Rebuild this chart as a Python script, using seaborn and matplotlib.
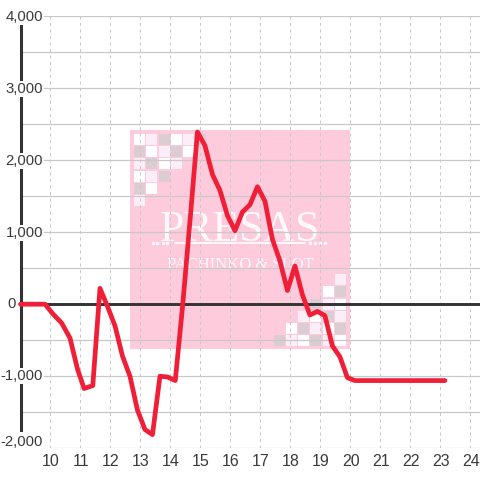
import matplotlib
matplotlib.use("Agg")
import matplotlib.pyplot as plt
import seaborn as sns
import pandas as pd
from matplotlib.patches import Rectangle

# valores
jogos = [9.0, 9.82, 10.07, 10.37, 10.65, 10.9, 11.12, 11.41, 11.65, 11.9, 12.15, 12.4, 12.65,
         12.9, 13.15, 13.4, 13.65, 13.9, 14.16, 14.41, 14.66, 14.9, 15.15, 15.4, 15.65,
         15.9, 16.15, 16.4, 16.65, 16.9, 17.15, 17.4, 17.65, 17.9, 18.15, 18.4, 18.65,
         18.9, 19.15, 19.4, 19.65, 19.9, 20.15, 21.0, 22.0, 23.15]
saldo = [0, 0, -130, -260, -470, -900, -1170, -1130, 220, -30, -300, -720, -1000,
         -1470, -1740, -1810, -1000, -1010, -1060, 0, 1200, 2390, 2200, 1800, 1580,
         1230, 1020, 1280, 1380, 1630, 1430, 900, 600, 190, 530, 130, -150, -100, -160,
         -580, -730, -1020, -1060, -1060, -1060, -1060]

y_ticks = [4000, 3000, 2000, 1000, 0, -1000, -2000]
y_labels = ["4,000", "3,000", "2,000", "1,000", "0", "-1,000", "-2,000"]
y_minor = [3500, 2500, 1500, 500, -500, -1500]
x_ticks = [10, 11, 12, 13, 14, 15, 16, 17, 18, 19, 20, 21, 22, 23, 24]

# logo de fundo
cor_logo = "#fdcbdb"
padrao = [["w", "l", "g", "w", "l", "g"],
          ["g", "w", "l", "g", "w"],
          ["l", "g", "w", "l"],
          ["w", "l", "g"],
          ["g", "w"],
          ["l"]]
cores_celula = {"w": "#ffffff", "l": "#fbeef8", "g": "#dccdd2"}
pontos_logo = [152.7, 157.3, 162.7, 167.3, 310, 315, 320, 325]

fundo = "#fefffe"
sns.set_theme(style="white")
plt.rcParams["font.family"] = ["Liberation Sans", "DejaVu Sans"]

fig = plt.figure(figsize=(4.8, 4.8), dpi=100, facecolor=fundo)
ax = fig.add_axes([20.5 / 480, 1 - 448.3 / 480, 459.5 / 480, 432.3 / 480], facecolor=fundo)
ax.set_xlim(9.0, 24.32)
ax.set_ylim(-2000, 4000)
for s in ax.spines.values():
    s.set_visible(False)

# px -> dados
dx = 1 / 30
dy = 1000 / 72
x_logo0, x_logo1 = 12.66, 19.99
y_logo0, y_logo1 = -625, 2417
ax.add_patch(Rectangle((x_logo0, y_logo0), x_logo1 - x_logo0, y_logo1 - y_logo0, color=cor_logo, lw=0, zorder=0))
passo = 12.2
lado = 11
for i, linha in enumerate(padrao):
    for j, c in enumerate(linha):
        ax.add_patch(Rectangle((x_logo0 + (4 + j * passo) * dx, y_logo1 - (4 + i * passo + lado) * dy),
                               lado * dx, lado * dy, color=cores_celula[c], lw=0, zorder=0.5))
        ax.add_patch(Rectangle((x_logo1 - (4.3 + j * passo + lado) * dx, y_logo0 + (3 + i * passo) * dy),
                               lado * dx, lado * dy, color=cores_celula[c], lw=0, zorder=0.5))
xc = (x_logo0 + x_logo1) / 2
ax.text(xc, 882, "PRESAS", color="white", alpha=0.92, family="Liberation Serif", fontsize=31.5,
        ha="center", va="baseline", zorder=0.6)
ax.plot([(175 - 50.5) * dx + 10, (305 - 50.5) * dx + 10], [851, 851], color="white", lw=1.2, zorder=0.6)
ax.scatter([(p - 50.5) * dx + 10 for p in pontos_logo], [851] * len(pontos_logo), s=6, color="white", lw=0, zorder=0.6)
ax.text(xc, 486, "PACHINKO & SLOT", color="white", alpha=0.85, family="Liberation Serif", fontsize=12,
        ha="center", va="baseline", zorder=0.6)

ax.set_xticks(x_ticks)
ax.set_yticks(y_ticks + y_minor)
ax.tick_params(length=0, labelleft=False, labelbottom=False)
ax.set_axisbelow("line")
ax.grid(axis="y", color="#c8c8c8", lw=0.9)
ax.grid(axis="x", color="#c8c8c8", lw=0.72, ls=(0, (3, 3.5)))

ax.axvline(9.0, color="#333333", lw=2.2, zorder=2, clip_on=False)
ax.axhline(0, color="#333333", lw=2.1, zorder=2)

df = pd.DataFrame({"jogos": jogos, "saldo": saldo})
sns.lineplot(data=df, x="jogos", y="saldo", color="#f01e36", lw=3.4, ax=ax, zorder=3, clip_on=False)
ax.set_xlabel("")
ax.set_ylabel("")

for v, t in zip(y_ticks, y_labels):
    px = 16 if v == 0 else 43
    sobe = 6.5 if v == -2000 else (-0.7 if v > 0 else 0)
    folga = 2.2 if v == -2000 else 0.9
    ax.annotate(t, xy=(0, v), xycoords=("axes fraction", "data"), xytext=(px - 20.5, sobe), textcoords="offset pixels",
                ha="right", va="center", fontsize=10.7, color="#3a3a3a", zorder=4, annotation_clip=False,
                bbox=dict(facecolor=fundo, edgecolor="none", pad=folga))
for v in x_ticks:
    ax.annotate(str(v), xy=(v, 0), xycoords=("data", "axes fraction"), xytext=(0.5, -13), textcoords="offset pixels",
                ha="center", va="center", fontsize=11.5, color="#3a3a3a", annotation_clip=False)

fig.savefig("out.png", dpi=100, facecolor=fig.get_facecolor())
